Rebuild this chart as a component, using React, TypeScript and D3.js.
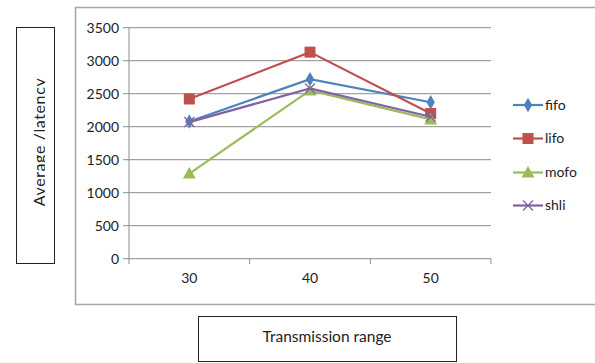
import React from "react";
import * as d3 from "d3";

const categories = ["30", "40", "50"];
const seriesNames = ["fifo", "lifo", "mofo", "shli"];
const fifo = [2080, 2720, 2370];
const lifo = [2420, 3130, 2200];
const mofo = [1290, 2550, 2110];
const shli = [2070, 2580, 2150];
const yTicks = [0, 500, 1000, 1500, 2000, 2500, 3000, 3500];
const colors = ["#4F81BD", "#C0504D", "#9BBB59", "#8064A2"];
const markers = ["diamond", "square", "triangle", "x"];

const W = 595, H = 363;
const font = "Lato, 'Liberation Sans', sans-serif";

function Marker({ type, x, y, color }: { type: string; x: number; y: number; color: string }) {
  if (type === "diamond") {
    const s = d3.symbol(d3.symbolDiamond, 60)();
    return <path d={s!} transform={`translate(${x},${y})`} fill={color} />;
  }
  if (type === "square") {
    return <rect x={x - 5.5} y={y - 5.5} width={11} height={11} fill={color} />;
  }
  if (type === "triangle") {
    return <path d={`M${x},${y - 6.5} L${x + 6.5},${y + 5} L${x - 6.5},${y + 5} Z`} fill={color} />;
  }
  return (
    <g stroke={color} strokeWidth={1.3}>
      <line x1={x - 5} y1={y - 5} x2={x + 5} y2={y + 5} />
      <line x1={x - 5} y1={y + 5} x2={x + 5} y2={y - 5} />
    </g>
  );
}

export default function App() {
  const series = [fifo, lifo, mofo, shli];
  const x = d3.scaleBand<string>().domain(categories).range([129, 491]);
  const y = d3.scaleLinear().domain([0, 3500]).range([258.7, 27.7]);
  const cx = (c: string) => (x(c) as number) + x.bandwidth() / 2;
  const line = d3
    .line<number>()
    .x((_, i) => cx(categories[i]))
    .y((d) => y(d));
  const xTickPos = [...categories.map((c) => x(c) as number), 491];
  const legendY = [105, 138.5, 172.5, 205.5];

  return (
    <svg width={W} height={H} style={{ position: "absolute", left: 0, top: 0, background: "#fff" }}>
      <defs>
        <clipPath id="ylab">
          <rect x={16} y={27} width={29} height={237} />
        </clipPath>
      </defs>
      {/* outer chart frame */}
      <path d={`M597,7.5 H75.5 V304.5 H597`} fill="none" stroke="#a6a6a6" strokeWidth={1.5} />
      {/* gridlines */}
      {yTicks.map((t) => (
        <line key={t} x1={123} x2={491} y1={y(t)} y2={y(t)} stroke="#8c8c8c" strokeWidth={1} />
      ))}
      {/* axes */}
      <line x1={129} x2={129} y1={27.7} y2={258.7} stroke="#8c8c8c" />
      {xTickPos.map((p, i) => (
        <line key={i} x1={p} x2={p} y1={258.7} y2={264} stroke="#8c8c8c" />
      ))}
      {yTicks.map((t) => (
        <text key={t} x={119} y={y(t)} dy="0.35em" textAnchor="end" fontSize={14} fontFamily={font} fill="#222">
          {t}
        </text>
      ))}
      {categories.map((c) => (
        <text key={c} x={cx(c)} y={283} textAnchor="middle" fontSize={14} fontFamily={font} fill="#222">
          {c}
        </text>
      ))}
      {/* series */}
      {series.map((s, si) => (
        <g key={si}>
          <path d={line(s)!} fill="none" stroke={colors[si]} strokeWidth={2.2} />
          {s.map((v, i) => (
            <Marker key={i} type={markers[si]} x={cx(categories[i])} y={y(v)} color={colors[si]} />
          ))}
        </g>
      ))}
      {/* legend */}
      {seriesNames.map((n, i) => (
        <g key={n}>
          <line x1={513} x2={543} y1={legendY[i]} y2={legendY[i]} stroke={colors[i]} strokeWidth={2.2} />
          <Marker type={markers[i]} x={528} y={legendY[i]} color={colors[i]} />
          <text x={545} y={legendY[i]} dy="0.35em" fontSize={14} fontFamily={font} fill="#222">
            {n}
          </text>
        </g>
      ))}
      {/* y label box */}
      <rect x={16.5} y={27.5} width={38} height={236} fill="#fff" stroke="#222" strokeWidth={1} />
      <g clipPath="url(#ylab)">
        <text
          transform="translate(44.5,142) rotate(-90)"
          textAnchor="middle"
          fontSize={16}
          fontFamily={font}
          letterSpacing={0.6}
          fill="#222"
        >
          Average /latency
        </text>
      </g>
      {/* x label box */}
      <rect x={198.5} y={316.5} width={258} height={45} fill="#fff" stroke="#222" strokeWidth={1} />
      <text x={327} y={337} dy="0.35em" textAnchor="middle" fontSize={15.5} fontFamily={font} fill="#222">
        Transmission range
      </text>
    </svg>
  );
}
